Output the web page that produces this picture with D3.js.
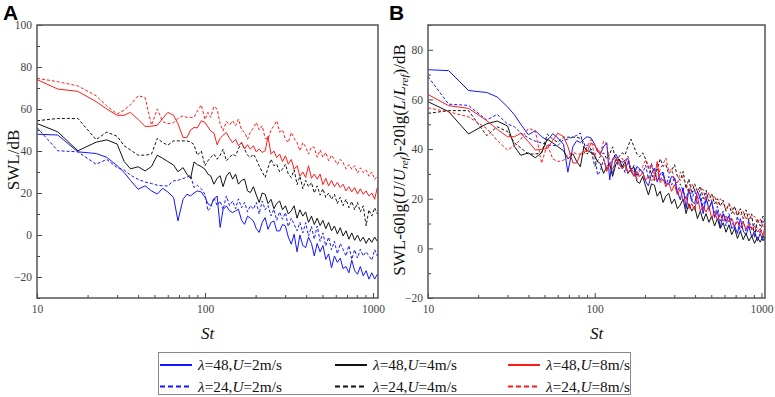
<!DOCTYPE html>
<meta charset="utf-8">
<style>
body { margin: 0; background: #fff; }
svg { display: block; font-family: "Liberation Serif", "Times New Roman", serif; }
.axis .tick text { fill: #444; font-size: 11.5px; font-family: "Liberation Serif", serif; }
.axis .tick line { stroke: #444; }
.axis .domain { display: none; }
.frame { fill: none; stroke: #555; stroke-width: 1.5; }
.series { fill: none; stroke-width: 1; stroke-linejoin: round; }
.panel-letter { font-family: "Liberation Sans", Arial, sans-serif; font-weight: bold; font-size: 21px; }
.lab { font-size: 17px; fill: #111; }
.leg { font-size: 15.3px; fill: #111; }
</style>
<svg width="775" height="397"></svg>
<script src="https://d3js.org/d3.v7.min.js"></script>
<script>
// Strouhal grid shared by all spectra
var st = [10, 13.3, 17.5, 22.5, 26, 30, 33, 36, 40, 44,
  48, 52, 56, 60, 65, 69, 74, 78, 82, 86,
  90, 95, 100, 104, 108, 113, 118, 123, 128, 134,
  140, 146, 152, 158, 165, 172, 179, 186, 194, 202,
  210, 219, 228, 237, 247, 257, 267, 278, 289, 301,
  313, 326, 339, 353, 367, 382, 397, 413, 430, 447,
  465, 484, 503, 523, 544, 566, 589, 613, 638, 663,
  690, 718, 747, 777, 808, 840, 874, 909, 945, 983,
  1022, 1060];

// SWL (dB), panel A
var swl48U2 = [48, 47.6, 39.6, 38.8, 37, 33, 29.8, 26, 21.8, 23.4,
  21, 19.5, 22.2, 20.5, 17.9, 6.7, 17, 19.4, 18.6, 20,
  21, 20.5, 17.9, 15, 13.9, 17, 18.6, 3.6, 12, 13.9,
  11.5, 10.7, 11.5, 12.3, 7, 5.1, 9, 8, 6.7, 3,
  1.2, 6, 8.3, 2.7, 6, 6.7, 2, 1.9, 5, 4.3,
  -1, -4.4, 0.4, -8, 0, -5, -6, -1, -4, -10,
  -4, -8, -5, -11.6, -9, -15.6, -10, -13, -11, -16,
  -15, -18, -12, -17, -18.7, -15, -19.5, -17, -21, -18,
  -21, -18.7];
var swl24U2 = [51.2, 40.1, 39.6, 33.7, 36, 32.1, 31, 28.5, 26.5, 25.2,
  24.5, 23.7, 23.4, 23.4, 25.8, 26, 26.9, 27.5, 28.5, 22.6,
  23.7, 22, 19.4, 11.5, 13.1, 17.9, 14, 16.2, 12, 18.6,
  14, 16.2, 12.5, 17.2, 13, 15.5, 11, 14, 12.3, 15.5,
  10, 16.2, 12, 14, 9.1, 12.3, 7, 11, 7.5, 10.7,
  4, 8, 5.1, 2, 6, 1, 5.9, -0.5, 4, -2,
  4.3, -3, 1, -5.2, -1, -7, -3, -9, -4, -6.8,
  -10, -5, -11.6, -7, -11, -6.8, -10, -8, -10, -12,
  -7, -10];
var swl48U4 = [53.1, 49.1, 40.1, 44.2, 45.3, 43.3, 35, 31.5, 32.5, 30.5,
  32.6, 38, 36.5, 35, 33.3, 30.1, 32.1, 29, 26.9, 34.8,
  33.5, 32.6, 31.3, 29, 28.2, 24.2, 27, 28.2, 23, 28,
  30, 26.6, 29, 24.2, 26, 26.6, 21, 20.2, 23, 19,
  15.5, 20, 19.4, 15, 17, 12.5, 15, 16.2, 12, 13.9,
  10, 11.5, 13.9, 8, 12, 9, 11, 6, 9, 5,
  8, 4.5, 7, 3, 6, 2, 4.3, 0.5, 3.5, -0.5,
  2, -2, 1, -2.5, 0, -3, -1, -4, -1.5, -3.5,
  -1, -3];
var swl24U4 = [54.4, 55.5, 55.5, 45.4, 49, 47, 42.5, 40.5, 38, 38,
  38.5, 46, 44, 42.8, 44.8, 44.8, 44.8, 44.8, 44.3, 43,
  38, 40, 33, 35.3, 37, 38.5, 36.1, 38, 40.9, 35.3,
  37, 38.5, 37.7, 41, 44, 40.9, 38, 36.9, 38.5, 36,
  32.9, 30, 27.4, 32, 36.1, 33, 33.7, 30, 31.3, 33.7,
  29, 27.4, 31, 24, 28, 22, 26, 23, 25, 20,
  23.4, 19, 22, 17.9, 20, 17, 19.4, 15, 18, 14,
  17, 13, 16, 12, 15.5, 11, 13.9, 4.3, 12, 9,
  13, 10];
var swl48U8 = [74, 69.5, 68.4, 63.5, 60, 57, 57, 58.4, 55, 51.7,
  51.8, 52.3, 55.5, 58.4, 57, 53, 46.4, 46.4, 50, 51.2,
  51, 54.4, 53.6, 51.5, 49.6, 48.5, 43, 46, 47.5, 48.8,
  46, 44, 45.6, 42.5, 44, 41, 43, 40.9, 42.5, 39.5,
  41, 39.3, 40.1, 47, 38.5, 40, 36.9, 38.5, 35, 37.7,
  33.7, 36, 31.3, 33, 28, 30, 27.4, 33, 27, 29,
  26.6, 29, 24, 27, 23.4, 26, 23, 25, 22.6, 24.2,
  21, 23, 20.5, 22.6, 19.5, 22, 19.4, 21, 18.6, 20,
  17, 22.6];
var swl24U8 = [74.6, 73, 71, 66.3, 61.5, 57.6, 59.5, 62, 66.3, 65.5,
  52.3, 60, 54, 53, 53.5, 55.5, 56.8, 56, 56, 56,
  59, 61.9, 55, 58.4, 56, 61.2, 60, 53, 49.6, 54,
  52.5, 54.4, 52, 55.2, 50, 48.8, 45.6, 49, 51, 53.6,
  50, 52, 46, 45.6, 50, 52, 54.4, 49, 50, 45.6,
  44, 48.8, 46, 44, 40.1, 44, 42, 38.5, 42, 41.7,
  37, 40.5, 37, 39.3, 35.3, 38, 36.1, 33.5, 36, 34.5,
  31.5, 33.5, 31.3, 33, 29.5, 32, 29.8, 31, 28, 30,
  26.5, 28];

// legend / case info
var lambdas = [48, 24, 48, 24, 48, 24];
var speeds = [2, 2, 4, 4, 8, 8];
// normalisation term -60lg(U/Uref)-20lg(L/Lref) (dB)
var normOffset = [24, 18, 6, 0, -12, -18];

var seriesA = [swl48U2, swl24U2, swl48U4, swl24U4, swl48U8, swl24U8];
var colors = ["#1515ff", "#1515ff", "#111", "#111", "#ff1a1a", "#ff1a1a"];
var dashes = [null, "3,2", null, "3,2", null, "3,2"];

var svg = d3.select("svg");

function panel(opt) {
  var x = d3.scaleLog().domain(opt.xd).range(opt.xr);
  var y = d3.scaleLinear().domain(opt.yd).range([298, 25]);
  var g = svg.append("g");
  var id = "clip" + opt.name;

  g.append("clipPath").attr("id", id).append("rect")
    .attr("x", opt.xr[0]).attr("y", 25)
    .attr("width", opt.xr[1] - opt.xr[0]).attr("height", 273);

  // minor ticks
  g.append("g").attr("class", "axis").attr("transform", "translate(0,298)")
    .call(d3.axisBottom(x).tickValues([20,30,40,50,60,70,80,90,200,300,400,500,600,700,800,900])
      .tickSize(-3).tickFormat(""));
  g.append("g").attr("class", "axis").attr("transform", "translate(0,298)")
    .call(d3.axisBottom(x).tickValues([10, 100, 1000]).tickSize(-5).tickPadding(7)
      .tickFormat(d3.format("d")));
  g.append("g").attr("class", "axis").attr("transform", "translate(" + opt.xr[0] + ",0)")
    .call(d3.axisLeft(y).tickValues(opt.minor).tickSize(-3).tickFormat(""));
  g.append("g").attr("class", "axis").attr("transform", "translate(" + opt.xr[0] + ",0)")
    .call(d3.axisLeft(y).tickValues(opt.major).tickSize(-5).tickPadding(5));

  var line = d3.line()
    .x(function(d) { return x(d[0]); })
    .y(function(d) { return y(d[1]); });

  var lines = g.append("g").attr("clip-path", "url(#" + id + ")");
  opt.series.forEach(function(vals, i) {
    lines.append("path")
      .datum(st.map(function(s, k) { return [s, vals[k]]; }))
      .attr("class", "series")
      .attr("stroke", colors[i])
      .attr("stroke-dasharray", dashes[i])
      .attr("d", line);
  });

  g.append("rect").attr("class", "frame")
    .attr("x", opt.xr[0]).attr("y", 25)
    .attr("width", opt.xr[1] - opt.xr[0]).attr("height", 273);

  g.append("text").attr("class", "lab")
    .attr("x", (opt.xr[0] + opt.xr[1]) / 2).attr("y", 339)
    .attr("text-anchor", "middle").style("font-style", "italic").text("St");

  g.append("text").attr("class", "panel-letter")
    .attr("x", opt.letterX).attr("y", 20).text(opt.name);
  return g;
}

panel({
  name: "A", xd: [10, 1070], xr: [37, 378], yd: [-30, 100],
  major: [-20, 0, 20, 40, 60, 80, 100], minor: [-30, -10, 10, 30, 50, 70, 90],
  series: seriesA, letterX: 3
});

var seriesB = seriesA.map(function(vals, i) {
  return vals.map(function(v) { return v + normOffset[i]; });
});

panel({
  name: "B", xd: [10, 1050], xr: [428, 765], yd: [-20, 90],
  major: [-20, 0, 20, 40, 60, 80], minor: [-10, 10, 30, 50, 70, 90],
  series: seriesB, letterX: 389
});

// y labels
svg.append("text").attr("class", "lab")
  .attr("transform", "translate(19,160) rotate(-90)")
  .attr("text-anchor", "middle").text("SWL/dB");

var yb = svg.append("text").attr("class", "lab")
  .attr("transform", "translate(405,160) rotate(-90)")
  .attr("text-anchor", "middle");
yb.append("tspan").text("SWL-60lg(");
yb.append("tspan").style("font-style", "italic").text("U");
yb.append("tspan").text("/");
yb.append("tspan").style("font-style", "italic").text("U");
yb.append("tspan").style("font-style", "italic").attr("font-size", 11).attr("dy", 3).text("ref");
yb.append("tspan").attr("dy", -3).text(")-20lg(");
yb.append("tspan").style("font-style", "italic").text("L");
yb.append("tspan").text("/");
yb.append("tspan").style("font-style", "italic").text("L");
yb.append("tspan").style("font-style", "italic").attr("font-size", 11).attr("dy", 3).text("ref");
yb.append("tspan").attr("dy", -3).text(")/dB");

// legend
var leg = svg.append("g");
leg.append("rect").attr("x", 158.5).attr("y", 352.5).attr("width", 472).attr("height", 42)
  .attr("fill", "none").attr("stroke", "#888");
var colX = [160, 335, 508];
seriesA.forEach(function(vals, i) {
  var cx = colX[Math.floor(i / 2)], cy = i % 2 ? 386.5 : 365;
  leg.append("line").attr("x1", cx).attr("x2", cx + 32).attr("y1", cy).attr("y2", cy)
    .attr("stroke", colors[i]).attr("stroke-width", 2)
    .attr("stroke-dasharray", dashes[i] ? "5,3" : null);
  var t = leg.append("text").attr("class", "leg").attr("x", cx + 38).attr("y", cy + 5);
  t.append("tspan").style("font-style", "italic").text("λ");
  t.append("tspan").text("=" + lambdas[i] + ",");
  t.append("tspan").style("font-style", "italic").text("U");
  t.append("tspan").text("=" + speeds[i] + "m/s");
});
</script>
